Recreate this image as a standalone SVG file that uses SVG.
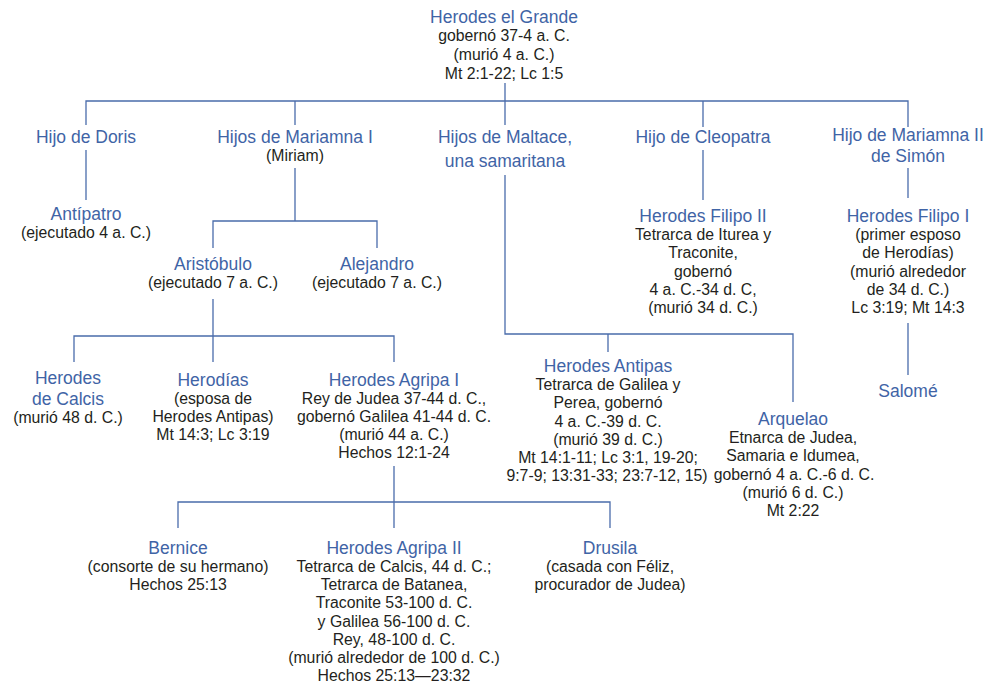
<svg xmlns="http://www.w3.org/2000/svg" width="990" height="685" viewBox="0 0 990 685">
<style>
.n{font-family:"Liberation Sans",Arial,sans-serif;fill:#3f64a6;font-size:17.5px;text-anchor:middle}
.t{font-family:"Liberation Sans",Arial,sans-serif;fill:#231f20;font-size:15.8px;text-anchor:middle}
.c{fill:none;stroke:#4a6cab;stroke-width:1.3}
</style>
<rect width="990" height="685" fill="#fff"/>
<g id="connectors" class="c">
<path d="M505 83V125M86 125V101H908V127M295 101V125M703 101V127"/>
<path d="M86 150V200"/>
<path d="M295 168V221M213 248V221H377V248"/>
<path d="M213 299V336M74 362V336H394V362M213 336V362"/>
<path d="M394 466V528M178 528V502H610V528"/>
<path d="M505 175V334H793V402M608 334V352"/>
<path d="M703 150V200"/>
<path d="M908 168V198M908 323V375"/>
</g>
<g id="herodes-el-grande">
<text class="n" x="504" y="23">Herodes el Grande</text>
<text class="t" x="504" y="41">gobernó 37-4 a. C.</text>
<text class="t" x="504" y="60">(murió 4 a. C.)</text>
<text class="t" x="504" y="79">Mt 2:1-22; Lc 1:5</text>
</g>
<g id="hijo-doris"><text class="n" x="86" y="143">Hijo de Doris</text></g>
<g id="hijos-mariamna-i">
<text class="n" x="295" y="143">Hijos de Mariamna I</text>
<text class="t" x="295" y="161">(Miriam)</text>
</g>
<g id="hijos-maltace">
<text class="n" x="505" y="143">Hijos de Maltace,</text>
<text class="n" x="505" y="167">una samaritana</text>
</g>
<g id="hijo-cleopatra"><text class="n" x="703" y="143">Hijo de Cleopatra</text></g>
<g id="hijo-mariamna-ii">
<text class="n" x="908" y="141">Hijo de Mariamna II</text>
<text class="n" x="908" y="162">de Simón</text>
</g>
<g id="antipatro">
<text class="n" x="86" y="220">Antípatro</text>
<text class="t" x="86" y="238">(ejecutado 4 a. C.)</text>
</g>
<g id="aristobulo">
<text class="n" x="213" y="270">Aristóbulo</text>
<text class="t" x="213" y="288">(ejecutado 7 a. C.)</text>
</g>
<g id="alejandro">
<text class="n" x="377" y="270">Alejandro</text>
<text class="t" x="377" y="288">(ejecutado 7 a. C.)</text>
</g>
<g id="herodes-filipo-ii">
<text class="n" x="703" y="222">Herodes Filipo II</text>
<text class="t" x="703" y="240">Tetrarca de Iturea y</text>
<text class="t" x="703" y="258">Traconite,</text>
<text class="t" x="703" y="277">gobernó</text>
<text class="t" x="703" y="295">4 a. C.-34 d. C,</text>
<text class="t" x="703" y="313">(murió 34 d. C.)</text>
</g>
<g id="herodes-filipo-i">
<text class="n" x="908" y="222">Herodes Filipo I</text>
<text class="t" x="908" y="240">(primer esposo</text>
<text class="t" x="908" y="258">de Herodías)</text>
<text class="t" x="908" y="277">(murió alrededor</text>
<text class="t" x="908" y="295">de 34 d. C.)</text>
<text class="t" x="908" y="313">Lc 3:19; Mt 14:3</text>
</g>
<g id="salome"><text class="n" x="908" y="397">Salomé</text></g>
<g id="herodes-calcis">
<text class="n" x="68" y="384">Herodes</text>
<text class="n" x="68" y="405">de Calcis</text>
<text class="t" x="68" y="423">(murió 48 d. C.)</text>
</g>
<g id="herodias">
<text class="n" x="213" y="386">Herodías</text>
<text class="t" x="213" y="404">(esposa de</text>
<text class="t" x="213" y="422">Herodes Antipas)</text>
<text class="t" x="213" y="440">Mt 14:3; Lc 3:19</text>
</g>
<g id="herodes-agripa-i">
<text class="n" x="394" y="386">Herodes Agripa I</text>
<text class="t" x="394" y="404">Rey de Judea 37-44 d. C.,</text>
<text class="t" x="394" y="422">gobernó Galilea 41-44 d. C.</text>
<text class="t" x="394" y="440">(murió 44 a. C.)</text>
<text class="t" x="394" y="458">Hechos 12:1-24</text>
</g>
<g id="herodes-antipas">
<text class="n" x="608" y="372">Herodes Antipas</text>
<text class="t" x="608" y="390">Tetrarca de Galilea y</text>
<text class="t" x="608" y="408">Perea, gobernó</text>
<text class="t" x="608" y="427">4 a. C.-39 d. C.</text>
<text class="t" x="608" y="445">(murió 39 d. C.)</text>
<text class="t" x="608" y="463">Mt 14:1-11; Lc 3:1, 19-20;</text>
<text class="t" x="607" y="481">9:7-9; 13:31-33; 23:7-12, 15)</text>
</g>
<g id="arquelao">
<text class="n" x="793" y="425">Arquelao</text>
<text class="t" x="793" y="443">Etnarca de Judea,</text>
<text class="t" x="793" y="461">Samaria e Idumea,</text>
<text class="t" x="794" y="480">gobernó 4 a. C.-6 d. C.</text>
<text class="t" x="793" y="498">(murió 6 d. C.)</text>
<text class="t" x="793" y="516">Mt 2:22</text>
</g>
<g id="bernice">
<text class="n" x="178" y="554">Bernice</text>
<text class="t" x="178" y="572">(consorte de su hermano)</text>
<text class="t" x="178" y="590">Hechos 25:13</text>
</g>
<g id="herodes-agripa-ii">
<text class="n" x="394" y="554">Herodes Agripa II</text>
<text class="t" x="394" y="572">Tetrarca de Calcis, 44 d. C.;</text>
<text class="t" x="394" y="590">Tetrarca de Batanea,</text>
<text class="t" x="394" y="608">Traconite 53-100 d. C.</text>
<text class="t" x="394" y="627">y Galilea 56-100 d. C.</text>
<text class="t" x="394" y="645">Rey, 48-100 d. C.</text>
<text class="t" x="394" y="663">(murió alrededor de 100 d. C.)</text>
<text class="t" x="394" y="681">Hechos 25:13—23:32</text>
</g>
<g id="drusila">
<text class="n" x="610" y="554">Drusila</text>
<text class="t" x="610" y="572">(casada con Féliz,</text>
<text class="t" x="610" y="590">procurador de Judea)</text>
</g>
</svg>
